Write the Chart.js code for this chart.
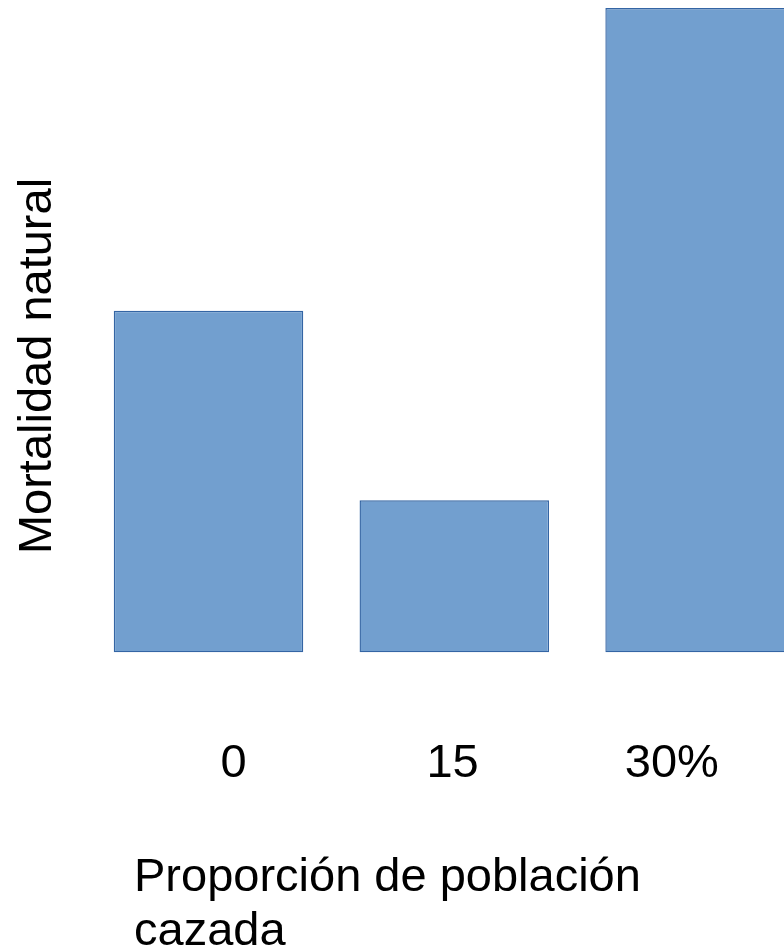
<!DOCTYPE html>
<html lang="es">
<head>
<meta charset="utf-8">
<title>Mortalidad natural según proporción de población cazada</title>
<script src="https://cdn.jsdelivr.net/npm/chart.js@4/dist/chart.umd.min.js"></script>
<style>
  html, body { margin: 0; padding: 0; background: #ffffff; overflow: hidden; }
  #wrap { width: 823px; height: 948px; }
  canvas { display: block; }
</style>
</head>
<body>
<div id="wrap"><canvas id="chart" width="823" height="948"></canvas></div>
<script>
// Hunting pressure categories and the natural mortality observed for each
const categories = ['0', '15', '30%'];
const mortality = [53, 23.6, 100];

// Values and text of the proportion axis
const proportionTicks = [0, 15, 30];
const proportionLabels = ['0', '15', '30%'];

const yTitle = 'Mortalidad natural';
const xTitleLines = ['Proporción de población', 'cazada'];

const FONT = '"Liberation Sans", Arial, sans-serif';
const FONT_SIZE = 47;

// Two-line, left-aligned axis caption under the chart
const xTitlePlugin = {
  id: 'xTitle',
  afterDraw(chart, args, opts) {
    const ctx = chart.ctx;
    ctx.save();
    ctx.font = opts.size + 'px ' + FONT;
    ctx.fillStyle = '#000000';
    ctx.textAlign = 'left';
    ctx.textBaseline = 'alphabetic';
    opts.lines.forEach((line, i) => ctx.fillText(line, opts.x, opts.y + i * opts.gap));
    ctx.restore();
  }
};

new Chart(document.getElementById('chart'), {
  type: 'bar',
  data: {
    labels: categories,
    datasets: [{
      data: mortality,
      backgroundColor: '#729fcf',
      borderColor: '#3465a4',
      borderWidth: 1.4,
      borderSkipped: false,
      categoryPercentage: 1,
      barPercentage: 0.771,
      xAxisID: 'x',
      yAxisID: 'y'
    }]
  },
  options: {
    responsive: false,
    animation: false,
    devicePixelRatio: 1,
    layout: { padding: { left: 0, right: 0, top: 8, bottom: 144 } },
    plugins: {
      legend: { display: false },
      tooltip: { enabled: false },
      xTitle: { lines: xTitleLines, x: 134, y: 891, gap: 54, size: FONT_SIZE }
    },
    scales: {
      x: {
        type: 'category',
        display: false
      },
      xp: {
        type: 'linear',
        position: 'bottom',
        offset: false,
        min: -10.12,
        max: 40.35,
        afterBuildTicks(scale) {
          scale.ticks = proportionTicks.map(v => ({ value: v }));
        },
        grid: { display: false, drawTicks: false },
        border: { display: false },
        ticks: {
          padding: 11.8,
          color: '#000000',
          font: { family: FONT, size: FONT_SIZE },
          maxRotation: 0,
          autoSkip: false,
          callback(value) {
            const i = proportionTicks.indexOf(value);
            return i >= 0 ? proportionLabels[i] : '';
          }
        }
      },
      y: {
        min: -11.12,
        max: 100,
        grid: { display: false, drawTicks: false },
        border: { display: false },
        ticks: { display: false },
        title: {
          display: true,
          text: yTitle,
          color: '#000000',
          font: { family: FONT, size: FONT_SIZE },
          padding: { top: 10.3, bottom: 18.9 }
        }
      }
    }
  },
  plugins: [xTitlePlugin]
});
</script>
</body>
</html>
